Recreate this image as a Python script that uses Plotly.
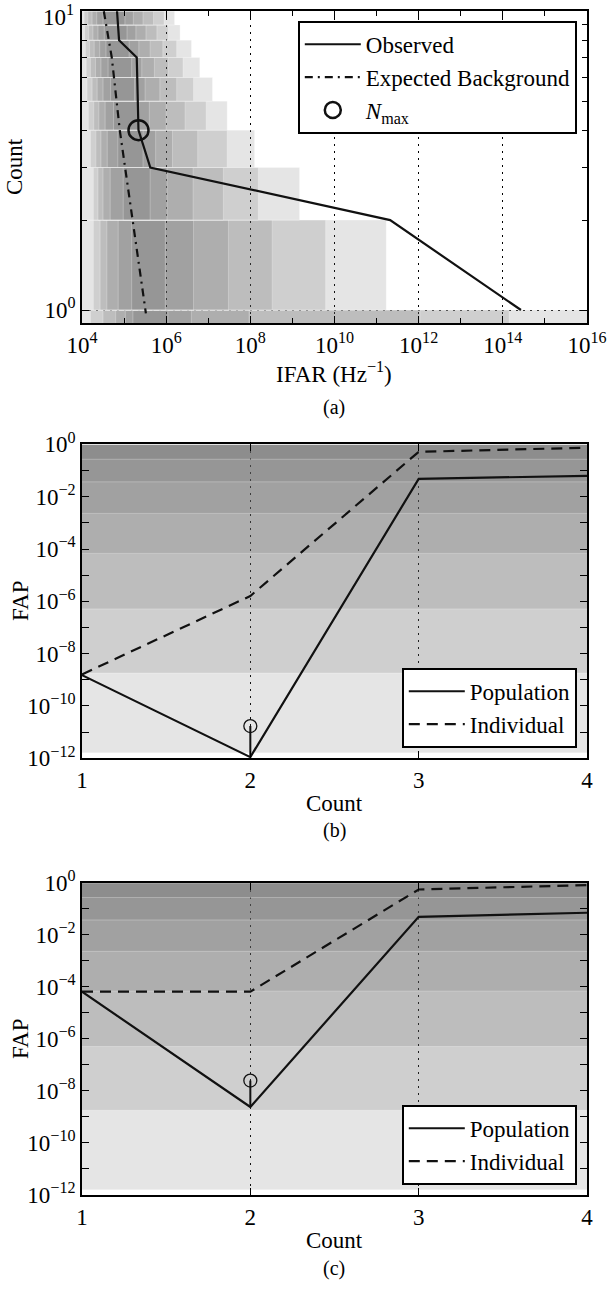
import plotly.graph_objects as go

W, H = 610, 1290
FONT = "Liberation Serif"
FS = 23

# ---------------- Panel (a) data ----------------
obs_count = [10, 9, 8, 7, 6, 5, 4, 3, 2, 1]
obs_ifar = [6.8e4, 7.2e4, 7.6e4, 2.0e5, 2.05e5, 2.1e5, 2.2e5, 4.2e5, 2.1e11, 2.7e14]
bkg_count = [10, 7, 4, 3, 2, 1, 0.975]
bkg_ifar = [3.3e4, 5.1e4, 7.9e4, 1.05e5, 1.6e5, 3.2e5, 3.3e5]
nmax_a_ifar = [2.2e5]
nmax_a_count = [4]

# nested background intervals per count row (log10 IFAR edges, outer -> inner)
band_row_lo = [0.5, 1, 2, 3, 4, 5, 6, 7, 8, 9]
band_row_hi = [1, 2, 3, 4, 5, 6, 7, 8, 9, 10]
band_left_exp = [
    [3.9, 4.20, 4.50, 4.80, 5.03, 5.21],
    [3.9, 4.27, 4.43, 4.59, 4.86, 5.18],
    [3.9, 4.27, 4.38, 4.50, 4.67, 4.98],
    [3.9, 4.20, 4.33, 4.45, 4.60, 4.85],
    [3.9, 4.15, 4.28, 4.40, 4.55, 4.75],
    [3.9, 4.12, 4.24, 4.36, 4.50, 4.68],
    [3.9, 4.10, 4.20, 4.32, 4.45, 4.62],
    [3.9, 4.08, 4.18, 4.29, 4.42, 4.57],
    [3.9, 4.06, 4.16, 4.26, 4.38, 4.53],
    [3.9, 4.05, 4.14, 4.24, 4.35, 4.50],
]
band_right_exp = [
    [16.5, 14.15, 12.03, 7.97, 6.60, 6.04],
    [11.23, 9.79, 8.52, 7.48, 6.65, 5.98],
    [9.17, 8.19, 7.36, 6.64, 6.02, 5.62],
    [8.10, 7.45, 6.75, 6.15, 5.75, 5.45],
    [7.45, 6.95, 6.45, 6.00, 5.60, 5.35],
    [7.10, 6.65, 6.25, 5.85, 5.50, 5.25],
    [6.80, 6.40, 6.05, 5.72, 5.42, 5.18],
    [6.60, 6.25, 5.92, 5.62, 5.35, 5.12],
    [6.33, 6.05, 5.78, 5.52, 5.28, 5.07],
    [6.20, 5.95, 5.70, 5.45, 5.22, 5.02],
]

# ---------------- Panels (b), (c) data ----------------
counts = [1, 2, 3, 4]
b_population = [1.5e-9, 1.1e-12, 4.8e-2, 6.3e-2]
b_individual = [1.6e-9, 1.6e-6, 0.52, 0.75]
b_nmax = [1.7e-11]
c_population = [6.5e-5, 2.4e-9, 4.9e-2, 7.0e-2]
c_individual = [6.5e-5, 6.5e-5, 0.55, 0.81]
c_nmax = [2.5e-8]
nmax_count = [2]
fap_band_lo = [1.6e-12, 1.8e-9, 5.1e-7, 6.8e-5, 2.3e-3, 3.7e-2, 0.27]

x_tick_exp = [4, 6, 8, 10, 12, 14, 16]
x_minor_exp = [5, 7, 9, 11, 13, 15]
fap_tick_exp = [0, -2, -4, -6, -8, -10, -12]
fap_minor_exp = [-1, -3, -5, -7, -9, -11]

FILL = "rgba(100,100,102,0.168)"
EDGE = "rgba(255,255,255,0.35)"
GRID_DASH = "2px,5px"


def px(x):
    return x / W


def py(y):
    return 1 - y / H


def sup(e):
    s = str(e).replace("-", "\u2212")
    return "10<sup>" + s + "</sup>"


fig = go.Figure()

# ---- panel (a) background rectangles ----
for k in range(len(band_row_lo)):
    for L, R in zip(band_left_exp[k], band_right_exp[k]):
        x0, x1 = 10 ** L, 10 ** R
        y0, y1 = band_row_lo[k], band_row_hi[k]
        fig.add_trace(go.Scatter(
            x=[x0, x1, x1, x0, x0], y=[y0, y0, y1, y1, y0],
            mode="lines", fill="toself", fillcolor=FILL,
            line=dict(color=EDGE, width=0.8), hoverinfo="skip",
            showlegend=False, xaxis="x", yaxis="y"))

fig.add_trace(go.Scatter(x=obs_ifar, y=obs_count, mode="lines", name="Observed",
                         line=dict(color="#111", width=2.2), xaxis="x", yaxis="y",
                         legend="legend"))
fig.add_trace(go.Scatter(x=bkg_ifar, y=bkg_count, mode="lines", name="Expected Background",
                         line=dict(color="#111", width=2.2, dash="8px,5px,2px,5px"),
                         xaxis="x", yaxis="y", legend="legend"))
fig.add_trace(go.Scatter(x=nmax_a_ifar, y=nmax_a_count, mode="markers",
                         name="<i>N</i><sub>max</sub>",
                         marker=dict(symbol="circle-open", size=20, color="#111",
                                     line=dict(width=2.5, color="#111")),
                         xaxis="x", yaxis="y", legend="legend"))

# ---- panels (b) and (c) ----
panels = [
    ("x2", "y2", "legend2", b_population, b_individual, b_nmax),
    ("x3", "y3", "legend3", c_population, c_individual, c_nmax),
]
for xa, ya, lg, pop, ind, nm in panels:
    for lo in fap_band_lo:
        fig.add_trace(go.Scatter(
            x=[0.9, 4.1, 4.1, 0.9, 0.9], y=[lo, lo, 1.0, 1.0, lo],
            mode="lines", fill="toself", fillcolor=FILL,
            line=dict(color=EDGE, width=0.8), hoverinfo="skip",
            showlegend=False, xaxis=xa, yaxis=ya))
    fig.add_trace(go.Scatter(x=counts, y=pop, mode="lines", name="Population",
                             line=dict(color="#111", width=2.2), xaxis=xa, yaxis=ya,
                             legend=lg))
    fig.add_trace(go.Scatter(x=counts, y=ind, mode="lines", name="Individual",
                             line=dict(color="#111", width=2.2, dash="11px,7px"),
                             xaxis=xa, yaxis=ya, legend=lg))
    # stem from N_max marker to the population minimum
    fig.add_trace(go.Scatter(x=nmax_count * 2, y=[nm[0], pop[1]], mode="lines",
                             line=dict(color="#111", width=2), showlegend=False,
                             hoverinfo="skip", xaxis=xa, yaxis=ya))
    fig.add_trace(go.Scatter(x=nmax_count, y=nm, mode="markers", showlegend=False,
                             marker=dict(symbol="circle-open", size=13, color="#111",
                                         line=dict(width=1.3, color="#111")),
                             xaxis=xa, yaxis=ya))

axis_common = dict(showline=True, linecolor="black", linewidth=1.8, mirror="ticks",
                   ticks="inside", ticklen=7, tickwidth=1.2, tickcolor="black",
                   tickfont=dict(family=FONT, size=FS, color="black"), zeroline=False,
                   automargin=False, ticklabeloverflow="allow")

xdom = [px(82), px(587)]
fig.update_layout(
    template="none",
    width=W, height=H, margin=dict(l=0, r=0, t=0, b=0, autoexpand=False),
    paper_bgcolor="white", plot_bgcolor="white",
    font=dict(family=FONT, size=FS, color="black"),
    xaxis=dict(type="log", domain=xdom, anchor="y", range=[4, 16.0005],
               tickmode="array", tickvals=[10 ** e for e in x_tick_exp],
               ticktext=[sup(e) for e in x_tick_exp],
               showgrid=True, gridcolor="black", griddash=GRID_DASH, gridwidth=1.3,
               minor=dict(tickmode="array", tickvals=[10 ** e for e in x_minor_exp],
                          ticks="inside", ticklen=5, tickcolor="black", showgrid=False),
               **axis_common),
    # the top label (10^1) is drawn as an annotation so that it is not clipped
    yaxis=dict(type="log", domain=[py(323), py(11)], anchor="x", range=[-0.0434, 1.0008],
               tickmode="array", tickvals=[1, 10], ticktext=[sup(0), ""],
               showgrid=True, gridcolor="black", griddash=GRID_DASH, gridwidth=1.3,
               minor=dict(tickmode="array", tickvals=[2, 3, 4, 5, 6, 7, 8, 9],
                          ticks="inside", ticklen=5, tickcolor="black", showgrid=False),
               **axis_common),
)
for i, (top, bot) in zip([2, 3], [(444.4, 758.2), (882.7, 1195)]):
    fig.update_layout(**{
        f"xaxis{i}": dict(domain=xdom, anchor=f"y{i}", range=[1, 4],
                          tickmode="array", tickvals=counts,
                          ticktext=[str(c) for c in counts],
                          showgrid=True, gridcolor="black", griddash=GRID_DASH,
                          gridwidth=1.3, **axis_common),
        f"yaxis{i}": dict(type="log", domain=[py(bot), py(top)], anchor=f"x{i}",
                          range=[-12, 0.0005], tickmode="array",
                          tickvals=[10.0 ** e for e in fap_tick_exp],
                          ticktext=[sup(e) for e in fap_tick_exp], showgrid=False,
                          minor=dict(tickmode="array",
                                     tickvals=[10.0 ** e for e in fap_minor_exp],
                                     ticks="inside", ticklen=7, tickcolor="black",
                                     showgrid=False),
                          **axis_common),
    })

legend_common = dict(bgcolor="white", bordercolor="black", borderwidth=1.8,
                     font=dict(family=FONT, size=FS, color="black"),
                     xanchor="right", tracegroupgap=0, itemwidth=56)
fig.update_layout(
    legend=dict(x=px(577), y=py(21), yanchor="top", **legend_common),
    legend2=dict(x=px(577), y=py(748), yanchor="bottom", **legend_common),
    legend3=dict(x=px(577), y=py(1185), yanchor="bottom", **legend_common),
)

ann = [
    (15, 167, "Count", -90, FS, "center"),
    (334, 372, "IFAR (Hz<sup>\u22121</sup>)", 0, FS, "center"),
    (334, 408, "(a)", 0, 20, "center"),
    (20, 601, "FAP", -90, FS, "center"),
    (334, 803, "Count", 0, FS, "center"),
    (334, 830, "(b)", 0, 20, "center"),
    (20, 1039, "FAP", -90, FS, "center"),
    (334, 1240, "Count", 0, FS, "center"),
    (334, 1268, "(c)", 0, 20, "center"),
    (76, 15, sup(1), 0, FS, "right"),
]
for x, y, t, ang, s, xa in ann:
    fig.add_annotation(x=px(x), y=py(y), xref="paper", yref="paper", text=t,
                       showarrow=False, textangle=ang, xanchor=xa, yanchor="middle",
                       font=dict(family=FONT, size=s, color="black"))

fig.write_html("out.html", config={"displayModeBar": False},
               post_script="document.body.style.margin='0';"
                           "document.documentElement.style.overflow='hidden';")
